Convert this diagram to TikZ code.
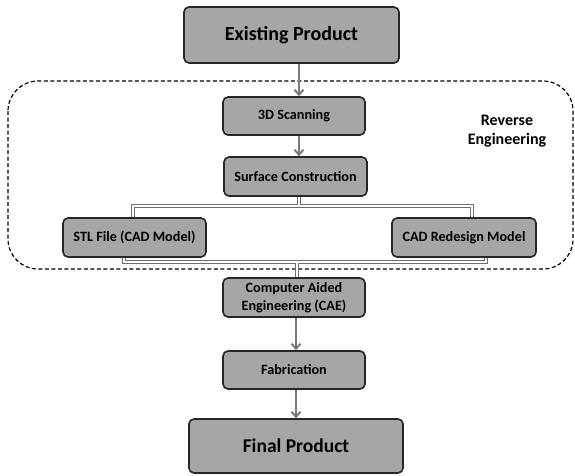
\documentclass[tikz,border=0pt]{standalone}
\usepackage{fontspec}
\setmainfont{Carlito}
\usetikzlibrary{arrows.meta,calc}
\definecolor{boxfill}{HTML}{A6A6A6}
\definecolor{boxline}{HTML}{262626}
\definecolor{conn}{HTML}{7A7A7A}
\definecolor{treegray}{HTML}{6E6E6E}
\tikzset{
  stepbox/.style={draw=boxline, line width=1.6pt, fill=boxfill, rounded corners=5pt,
    font=\bfseries\fontsize{14.2}{18.5}\selectfont, align=center, inner sep=0pt},
  bigbox/.style={stepbox, font=\bfseries\fontsize{20}{22}\selectfont},
  flowarrow/.style={draw=conn, line width=2pt, -{Straight Barb[length=5pt,width=9pt,line width=2pt]}},
  treeouter/.style={draw=treegray, line width=3.6pt},
  treeinner/.style={draw=white, line width=1.4pt},
  regionbox/.style={draw=black, line width=1.2pt, dashed, dash pattern=on 4pt off 2.5pt, rounded corners=30pt}
}
\begin{document}
\begin{tikzpicture}[x=1pt,y=-1pt]
\useasboundingbox (0,0) rectangle (575,475);
% dashed region
\draw[regionbox] (8,81) rectangle (573,269);
\node[font=\bfseries\fontsize{16}{19.5}\selectfont, align=center] (re) at (507,131) {Reverse\\Engineering};
% nodes
\node[bigbox, minimum width=215pt, minimum height=56pt] (ep) at (291.5,35) {Existing Product};
\node[stepbox, minimum width=142pt, minimum height=38pt] (scan) at (294,116) {3D Scanning};
\node[stepbox, minimum width=143pt, minimum height=39pt] (surf) at (295.5,176.5) {Surface Construction};
\node[stepbox, minimum width=143pt, minimum height=39pt] (stl) at (134.5,237.5) {STL File (CAD Model)};
\node[stepbox, minimum width=144pt, minimum height=39pt] (cad) at (464,237.5) {CAD Redesign Model};
\node[stepbox, minimum width=142pt, minimum height=39pt] (cae) at (294,297.5) {Computer Aided\\Engineering (CAE)};
\node[stepbox, minimum width=142pt, minimum height=38pt] (fab) at (294,370) {Fabrication};
\node[bigbox, font=\bfseries\fontsize{19.5}{22}\selectfont, minimum width=214pt, minimum height=54pt] (fp) at (296,446) {Final Product};
% guide coordinates
\coordinate (a1) at (299,0);
\coordinate (a2) at (296,0);
\coordinate (t1) at (133,206);
\coordinate (t2) at (472,206);
\coordinate (b1) at (124,262);
\coordinate (b2) at (486,262);
\coordinate (bm) at (297,262);
% arrows
\draw[flowarrow] (ep.south -| a1) -- (scan.north -| a1);
\draw[flowarrow] (scan.south -| a1) -- (surf.north -| a1);
\draw[flowarrow] (cae.south -| a2) -- (fab.north -| a2);
\draw[flowarrow] (fab.south -| a2) -- (fp.north -| a2);
% tree lines (double line: gray outline, white core)
\foreach \st in {treeouter, treeinner} {
  \draw[\st] (surf.south -| a1) -- (t1 -| a1);
  \draw[\st] (stl.north -| t1) -- (t1) -- (t2) -- (cad.north -| t2);
  \draw[\st] (stl.south -| b1) -- (b1) -- (b2) -- (cad.south -| b2);
  \draw[\st] (bm) -- (cae.north -| bm);
}
\end{tikzpicture}
\end{document}
